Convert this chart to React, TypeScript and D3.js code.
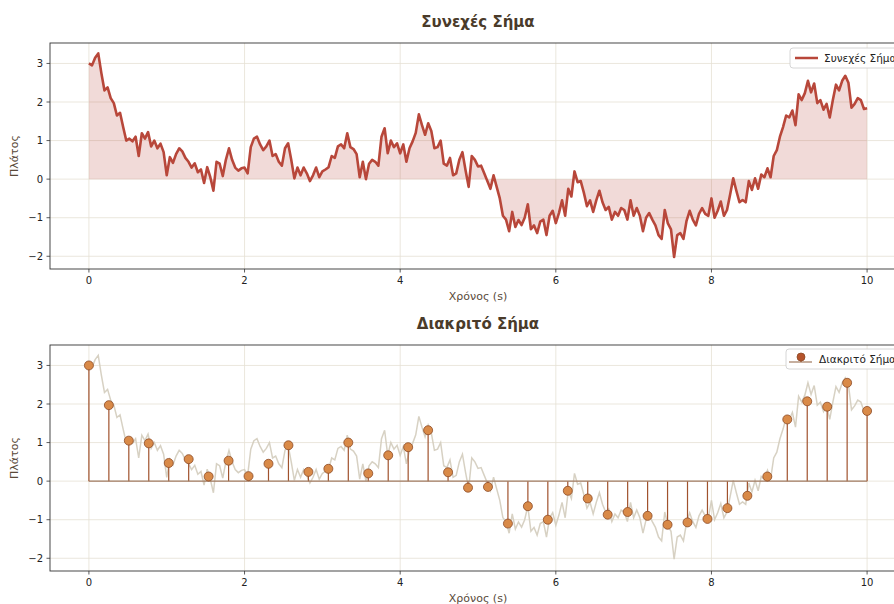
import * as d3 from 'd3';

// continuous signal, sampled every 0.04 s from 0 to 10 s
const CONT_VALUES = [
  3.0, 2.95, 3.15, 3.26, 2.75, 2.3, 2.38, 2.1, 1.97, 1.65, 1.72, 1.35, 1.0, 1.05, 0.98, 1.1,
  0.6, 1.19, 1.05, 1.22, 0.85, 1.0, 0.8, 0.92, 0.7, 0.1, 0.57, 0.42, 0.65, 0.8, 0.72, 0.55,
  0.45, 0.3, 0.41, 0.18, 0.25, -0.1, 0.31, 0.05, -0.3, 0.45, 0.4, 0.08, 0.5, 0.8, 0.5, 0.3,
  0.22, 0.28, 0.3, 0.15, 0.83, 1.05, 1.1, 0.9, 0.75, 0.85, 1.0, 0.6, 0.65, 0.45, 0.35, 0.8,
  0.93, 0.5, 0.02, 0.3, 0.1, 0.3, 0.15, -0.05, 0.1, 0.3, 0.05, 0.2, 0.25, 0.31, 0.6, 0.55,
  0.85, 0.9, 0.8, 1.19, 0.83, 0.78, 0.65, 0.05, 0.45, 0.0, 0.4, 0.5, 0.45, 0.35, 1.1, 1.32,
  0.67, 1.0, 0.83, 0.93, 0.67, 0.9, 0.45, 0.8, 0.98, 1.2, 1.68, 1.4, 1.15, 1.45, 1.25, 0.8,
  0.83, 1.0, 0.4, 0.35, 0.55, 0.1, 0.15, 0.5, 0.7, 0.23, -0.2, 0.6, 0.5, 0.33, 0.35, 0.15,
  -0.05, -0.25, 0.1, -0.2, -0.5, -0.95, -1.05, -1.35, -0.85, -1.24, -1.06, -1.19, -1.0, -0.65, -1.3, -1.2,
  -1.4, -1.1, -1.05, -1.45, -0.95, -0.82, -1.14, -0.88, -0.55, -0.95, -0.25, -0.45, 0.2, -0.08, -0.05, -0.35,
  -0.7, -0.55, -0.85, -0.55, -0.3, -0.6, -0.8, -0.72, -1.05, -0.85, -0.95, -0.75, -0.8, -1.05, -0.55, -0.95,
  -0.75, -0.95, -1.35, -1.0, -0.88, -1.05, -1.2, -1.45, -1.55, -0.8, -1.15, -1.3, -2.02, -1.45, -1.4, -1.55,
  -1.08, -0.82, -1.05, -1.2, -0.9, -0.75, -0.9, -0.95, -0.5, -1.0, -0.82, -0.58, -0.95, -0.8, -0.4, 0.02,
  -0.3, -0.6, -0.54, -0.6, -0.05, -0.28, 0.02, -0.25, 0.12, 0.05, 0.28, 0.05, 0.6, 0.75, 1.1, 1.35,
  1.65, 1.6, 1.78, 1.4, 2.2, 2.05, 2.23, 2.55, 2.25, 2.48, 1.97, 2.05, 1.8, 1.95, 1.6, 2.05,
  2.45, 2.3, 2.55, 2.68, 2.5, 1.85, 1.95, 2.1, 2.05, 1.82, 1.84,
];

// discrete samples, 40 points evenly spaced from 0 to 10 s
const DISC_VALUES = [
  3.0, 1.97, 1.05, 0.98, 0.47, 0.57, 0.12, 0.53, 0.13, 0.45, 0.93, 0.24, 0.32, 1.0, 0.2, 0.67,
  0.88, 1.32, 0.23, -0.17, -0.15, -1.1, -0.65, -1.0, -0.25, -0.45, -0.87, -0.8, -0.9, -1.13,
  -1.07, -0.98, -0.7, -0.38, 0.12, 1.6, 2.07, 1.93, 2.55, 1.82,
];

const X_TICKS = [0, 2, 4, 6, 8, 10];
const Y_TICKS = [-2, -1, 0, 1, 2, 3];
const T_END = 10;

const contData = CONT_VALUES.map((v, i) => ({ t: (i * T_END) / (CONT_VALUES.length - 1), v }));
const discData = DISC_VALUES.map((v, i) => ({ t: (i * T_END) / (DISC_VALUES.length - 1), v }));

const W = 894;
const H = 604;
const FONT = 'DejaVu Sans, sans-serif';
const LEFT = 50;
const RIGHT = 906;
const PANEL_H = 226;
const TOPS = [43, 345];

const LINE_COLOR = '#b8473a';
const STEM_COLOR = '#a0522d';
const MARKER_FILL = '#d98a48';
const BG_LINE = '#d3ccbc';
const GRID = '#e6e1d4';
const TITLE_COLOR = '#4a3b2a';
const LABEL_COLOR = '#5a4a3a';

const xScale = d3.scaleLinear().domain([-0.5, 10.5]).range([LEFT, RIGHT]);

function Panel({ top, title, kind }: { top: number; title: string; kind: 'cont' | 'disc' }) {
  const y = d3.scaleLinear().domain([-2.33, 3.53]).range([top + PANEL_H, top]);
  const line = d3.line<{ t: number; v: number }>().x(d => xScale(d.t)).y(d => y(d.v));
  const area = d3.area<{ t: number; v: number }>().x(d => xScale(d.t)).y0(y(0)).y1(d => y(d.v));
  const bottom = top + PANEL_H;

  return (
    <g>
      {/* grid */}
      {X_TICKS.map(t => (
        <line key={'gx' + t} x1={xScale(t)} x2={xScale(t)} y1={top} y2={bottom} stroke={GRID} strokeWidth={0.8} />
      ))}
      {Y_TICKS.map(t => (
        <line key={'gy' + t} x1={LEFT} x2={RIGHT} y1={y(t)} y2={y(t)} stroke={GRID} strokeWidth={0.8} />
      ))}

      {kind === 'cont' ? (
        <g>
          <path d={area(contData) ?? ''} fill={LINE_COLOR} fillOpacity={0.2} />
          <path d={line(contData) ?? ''} fill="none" stroke={LINE_COLOR} strokeWidth={2.6} strokeLinejoin="round" />
        </g>
      ) : (
        <g>
          <path d={line(contData) ?? ''} fill="none" stroke={BG_LINE} strokeWidth={1.5} opacity={0.9} />
          {discData.map((d, i) => (
            <line key={'s' + i} x1={xScale(d.t)} x2={xScale(d.t)} y1={y(0)} y2={y(d.v)} stroke={STEM_COLOR} strokeWidth={1.2} />
          ))}
          <line x1={xScale(0)} x2={xScale(T_END)} y1={y(0)} y2={y(0)} stroke="#a07a60" strokeWidth={1.2} />
          {discData.map((d, i) => (
            <circle key={'m' + i} cx={xScale(d.t)} cy={y(d.v)} r={4.5} fill={MARKER_FILL} stroke="#8b4a26" strokeWidth={0.8} />
          ))}
        </g>
      )}

      {/* frame */}
      <rect x={LEFT} y={top} width={RIGHT - LEFT} height={PANEL_H} fill="none" stroke="#333" strokeWidth={0.9} />

      {/* ticks */}
      {X_TICKS.map(t => (
        <g key={'tx' + t}>
          <line x1={xScale(t)} x2={xScale(t)} y1={bottom} y2={bottom + 3.5} stroke="#333" strokeWidth={0.8} />
          <text x={xScale(t)} y={bottom + 15} textAnchor="middle" fontSize={10} fill="#222" fontFamily={FONT}>{t}</text>
        </g>
      ))}
      {Y_TICKS.map(t => (
        <g key={'ty' + t}>
          <line x1={LEFT - 3.5} x2={LEFT} y1={y(t)} y2={y(t)} stroke="#333" strokeWidth={0.8} />
          <text x={LEFT - 7} y={y(t) + 3.5} textAnchor="end" fontSize={10} fill="#222" fontFamily={FONT}>
            {t < 0 ? '\u2212' + Math.abs(t) : t}
          </text>
        </g>
      ))}

      <text x={(LEFT + RIGHT) / 2} y={top - 16} textAnchor="middle" fontSize={15} fontWeight="bold" fill={TITLE_COLOR} fontFamily={FONT}>{title}</text>
      <text x={(LEFT + RIGHT) / 2} y={bottom + 31} textAnchor="middle" fontSize={11} fill={LABEL_COLOR} fontFamily={FONT}>Χρόνος (s)</text>
      <text transform={`translate(18,${top + PANEL_H / 2}) rotate(-90)`} textAnchor="middle" fontSize={11} fill={LABEL_COLOR} fontFamily={FONT}>Πλάτος</text>

      {/* legend */}
      {kind === 'cont' ? (
        <g>
          <rect x={790} y={top + 5} width={112} height={20} rx={3} fill="#fff" fillOpacity={0.9} stroke="#ccc" strokeWidth={0.8} />
          <line x1={795} x2={818} y1={top + 15} y2={top + 15} stroke={LINE_COLOR} strokeWidth={2.5} />
          <text x={824} y={top + 19} fontSize={10.5} fill="#222" fontFamily={FONT}>Συνεχές Σήμα</text>
        </g>
      ) : (
        <g>
          <rect x={786} y={top + 4} width={116} height={20} rx={3} fill="#fff" fillOpacity={0.9} stroke="#ccc" strokeWidth={0.8} />
          <line x1={789} x2={812} y1={top + 17} y2={top + 17} stroke="#a07a60" strokeWidth={1.2} />
          <line x1={801} x2={801} y1={top + 17} y2={top + 12} stroke={STEM_COLOR} strokeWidth={1.2} />
          <circle cx={801} cy={top + 12} r={4} fill="#b5532b" stroke="#8b4a26" strokeWidth={0.8} />
          <text x={819} y={top + 17.5} fontSize={10.5} fill="#222" fontFamily={FONT}>Διακριτό Σήμα</text>
        </g>
      )}
    </g>
  );
}

export default function App() {
  return (
    <div style={{ position: 'absolute', left: 0, top: 0 }}>
      <svg width={W} height={H} style={{ display: 'block', background: '#fff' }}>
        <Panel top={TOPS[0]} title="Συνεχές Σήμα" kind="cont" />
        <Panel top={TOPS[1]} title="Διακριτό Σήμα" kind="disc" />
      </svg>
    </div>
  );
}
